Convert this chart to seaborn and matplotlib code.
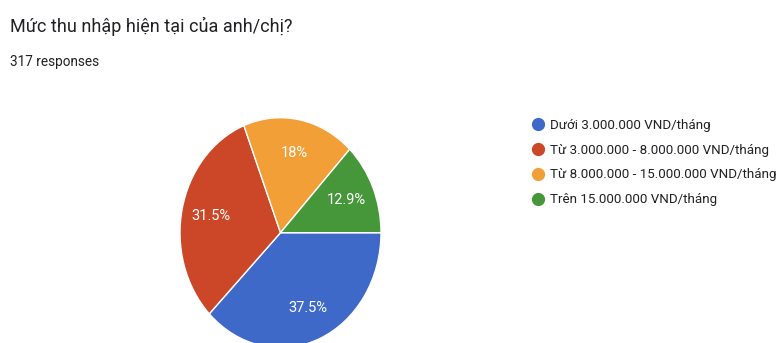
import matplotlib
matplotlib.use("Agg")
import matplotlib.pyplot as plt
from matplotlib.lines import Line2D
import seaborn as sns

# Survey answers: monthly income brackets
categories = [
    "Dưới 3.000.000 VND/tháng",
    "Từ 3.000.000 - 8.000.000 VND/tháng",
    "Từ 8.000.000 - 15.000.000 VND/tháng",
    "Trên 15.000.000 VND/tháng",
]
shares = [37.5, 31.5, 18.0, 12.9]
colors = ["#3F69C8", "#CB4727", "#F29F38", "#46963A"]
title = "Mức thu nhập hiện tại của anh/chị?"
subtitle = "317 responses"

sns.set_theme(style="white")
plt.rcParams["font.family"] = ["Roboto", "DejaVu Sans"]

W, H = 779, 343
fig = plt.figure(figsize=(W / 100, H / 100), dpi=100)
ax = fig.add_axes([0, 0, 1, 1])

palette = sns.color_palette(colors)

def pct_label(p):
    return f"{p:.1f}%".replace(".0%", "%")

wedges, _, autotexts = ax.pie(
    shares,
    colors=palette,
    startangle=0,
    counterclock=False,
    autopct=pct_label,
    pctdistance=0.71,
    wedgeprops=dict(edgecolor="white", linewidth=1.0),
    textprops=dict(color="white", fontsize=10.5),
)

# pie is drawn slightly taller than wide
cx, cy = 280.5, H - 232.7
sx, sy = 100.5, 115.0
ax.set_aspect("auto")
ax.set_xlim(-cx / sx, (W - cx) / sx)
ax.set_ylim(-cy / sy, (H - cy) / sy)
ax.axis("off")

fig.text(10 / W, 1 - 26 / H, title, fontsize=13.0, color="#202124",
         va="center", ha="left")
fig.text(10 / W, 1 - 62 / H, subtitle, fontsize=9.8, color="#202124",
         va="center", ha="left")

handles = [Line2D([0], [0], marker="o", linestyle="none", markersize=8.5,
                  markerfacecolor=c, markeredgecolor=c) for c in palette]
fig.legend(handles, categories, loc="upper left",
           bbox_to_anchor=(533 / W, 1 - 119 / H), frameon=False,
           fontsize=9.6, labelspacing=0.88, handlelength=0.8,
           handletextpad=0.5, borderpad=0, borderaxespad=0,
           labelcolor="#202124")

fig.savefig("out.png", dpi=100)
